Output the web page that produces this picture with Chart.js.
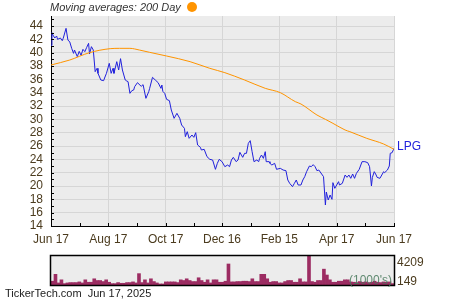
<!DOCTYPE html>
<html>
<head>
<meta charset="utf-8">
<script src="https://cdn.jsdelivr.net/npm/chart.js@4.4.0/dist/chart.umd.min.js"></script>
<style>
  body { margin: 0; background: #fff; font-family: "Liberation Sans", Arial, sans-serif; }
  #wrap { position: relative; width: 450px; height: 300px; overflow: hidden; }
  #title { position: absolute; left: 50px; top: 1px; font-style: italic; font-size: 11px; color: #333; white-space: nowrap; }
  #title .dot { display: inline-block; width: 10px; height: 10px; border-radius: 50%; background: #ff9400; margin-left: 6px; vertical-align: -1px; }
  #priceChart { position: absolute; left: 0; top: 0; }
  #volChart { position: absolute; left: 0; top: 250px; }
  #footer { position: absolute; left: 5px; top: 287px; font-size: 11px; color: #222; white-space: nowrap; }
</style>
</head>
<body>
<div id="wrap">
  <canvas id="priceChart" width="450" height="250"></canvas>
  <canvas id="volChart" width="450" height="40"></canvas>
  <div id="title">Moving averages: 200 Day<span class="dot"></span></div>
  <div id="footer">TickerTech.com&nbsp; Jun 17, 2025</div>
</div>
<script>
// --- data (day offsets from Jun 17 2024) ---
var ticker = 'LPG';

var priceDays = [
    0, 1, 2, 4, 6, 7, 10, 12, 13, 16,
    18, 20, 22, 24, 25, 28, 30, 32, 34, 36,
    38, 40, 41, 43, 45, 47, 49, 50, 53, 56,
    57, 59, 62, 64, 66, 67, 70, 72, 74, 76,
    79, 80, 82, 84, 86, 88, 89, 92, 96, 98,
    101, 104, 105, 108, 111, 114, 117, 118, 119, 121,
    123, 126, 128, 131, 134, 137, 139, 142, 143, 145,
    147, 150, 152, 154, 156, 159, 160, 163, 166, 169,
    172, 175, 177, 179, 182, 185, 188, 190, 192, 194,
    197, 199, 201, 204, 206, 208, 210, 212, 214, 216,
    219, 221, 222, 224, 226, 228, 229, 232, 233, 235,
    238, 240, 244, 247, 250, 252, 254, 257, 259, 261,
    263, 266, 268, 270, 272, 275, 277, 279, 281, 283,
    285, 288, 290, 292, 293, 295, 297, 299, 300, 302,
    304, 306, 307, 310, 313, 315, 317, 319, 321, 323,
    325, 328, 331, 334, 337, 339, 340, 341, 342, 344,
    346, 347, 350, 352, 354, 355, 358, 360, 361, 363,
    365
];
var prices = [
    41.1, 43.0, 42.65, 42.2, 42.5, 42.0, 42.2, 41.8, 42.15, 43.65,
    41.9, 41.6, 40.65, 39.9, 40.4, 39.4, 40.2, 39.6, 40.5, 40.15,
    40.8, 41.4, 39.8, 40.9, 40.4, 37.15, 37.65, 36.9, 35.9, 35.8,
    36.2, 36.9, 38.4, 36.9, 37.65, 36.9, 38.65, 37.4, 39.1, 37.4,
    35.9, 35.8, 35.65, 33.9, 34.3, 34.4, 34.9, 35.5, 34.95, 35.2,
    33.15, 34.15, 34.65, 36.3, 35.9, 35.5, 34.65, 35.15, 34.2, 33.9,
    33.0, 32.8, 31.4, 30.15, 30.9, 30.15, 29.15, 28.65, 27.4, 28.15,
    27.15, 27.65, 27.3, 28.0, 26.15, 25.8, 25.4, 25.5, 24.4, 24.0,
    23.9, 22.5, 23.4, 24.0, 23.65, 22.9, 23.15, 22.9, 23.9, 24.3,
    23.65, 23.9, 25.05, 24.3, 24.9, 24.9, 26.4, 26.8, 25.15, 23.65,
    23.9, 23.65, 24.15, 24.65, 24.15, 25.15, 23.65, 23.65, 23.4, 23.15,
    23.4, 22.5, 22.65, 22.4, 22.3, 20.9, 20.4, 19.9, 20.4, 20.9,
    20.15, 20.15, 20.9, 21.4, 22.15, 23.0, 22.9, 23.2, 22.9, 22.3,
    22.4, 21.8, 21.4, 17.15, 19.1, 17.9, 18.65, 18.0, 20.5, 19.65,
    20.15, 20.65, 20.15, 20.4, 21.65, 21.3, 21.65, 21.15, 21.8, 21.15,
    21.9, 22.5, 23.65, 23.65, 23.5, 22.9, 21.5, 20.0, 21.3, 22.15,
    21.65, 21.3, 21.15, 21.65, 22.15, 22.0, 22.4, 23.0, 24.9, 25.0,
    25.65
];

// 200 day moving average
var maDays = [0, 20, 41, 63, 73, 84, 94, 105, 123, 148, 169, 185, 206, 228, 244, 260, 266, 283, 292, 300, 313, 318, 336, 354, 365];
var maValues = [38.15, 38.9, 40.0, 40.6, 40.65, 40.65, 40.4, 40.05, 39.5, 38.65, 37.65, 37.0, 35.9, 34.65, 34.0, 32.65, 32.3, 30.65, 30.0, 29.4, 28.4, 28.15, 27.15, 26.3, 25.5];

var xTickDays = [0, 61, 122, 182, 243, 304, 365];
var xTickLabels = ['Jun 17', 'Aug 17', 'Oct 17', 'Dec 16', 'Feb 15', 'Apr 17', 'Jun 17'];
var yTickValues = [14, 16, 18, 20, 22, 24, 26, 28, 30, 32, 34, 36, 38, 40, 42, 44];

// volume (1000's), one bar per bin across the year
var volume = [
    550, 1550, 300, 750, 200, 300, 350, 350, 350, 450,
    300, 750, 400, 400, 900, 650, 650, 500, 750, 400,
    200, 200, 350, 250, 250, 350, 350, 450, 300, 1650,
    350, 750, 300, 900, 500, 300, 150, 150, 450, 450,
    450, 450, 350, 750, 650, 900, 650, 500, 500, 1050,
    650, 400, 750, 300, 750, 750, 400, 400, 550, 3050,
    450, 450, 500, 500, 550, 550, 500, 900, 500, 500,
    1550, 1550, 900, 400, 500, 500, 300, 300, 500, 650,
    650, 400, 400, 900, 450, 450, 4209, 500, 400, 650,
    650, 2300, 1450, 750, 400, 400, 550, 550, 750, 750,
    450, 400, 350, 500, 400, 450, 350, 400, 550, 400,
    350, 450, 400, 450, 200
];
var volLabels = [4209, 149];

var labelColor = '#4b3b1e';
var gridColor = '#d6d6d6';
var plotBg = '#ececec';
var priceColor = '#2121dc';
var maColor = '#ff9400';
var volColor = '#9c2c62';

Chart.defaults.font.family = '"Liberation Sans", Arial, sans-serif';

// grey plot background
var plotBackground = {
    id: 'plotBackground',
    beforeDraw: function(chart) {
        var a = chart.chartArea, ctx = chart.ctx;
        ctx.save();
        ctx.fillStyle = plotBg;
        ctx.fillRect(a.left, a.top, a.right - a.left, a.bottom - a.top);
        ctx.restore();
    }
};

// small inside tick marks + ticker label at the end of the line
var priceExtras = {
    id: 'priceExtras',
    afterDatasetsDraw: function(chart) {
        var ctx = chart.ctx, a = chart.chartArea;
        var x = chart.scales.x, y = chart.scales.y;
        ctx.save();
        ctx.strokeStyle = '#000';
        ctx.lineWidth = 1;
        ctx.beginPath();
        for (var v = Math.ceil(y.min); v <= y.max; v++) {
            var py = Math.round(y.getPixelForValue(v)) + 0.5;
            ctx.moveTo(a.left, py);
            ctx.lineTo(a.left + 3, py);
        }
        for (var i = 0; i < xTickDays.length; i++) {
            var px = Math.round(x.getPixelForValue(xTickDays[i])) + 0.5;
            ctx.moveTo(px, a.bottom);
            ctx.lineTo(px, a.bottom - 3);
            if (i < xTickDays.length - 1) {
                var pm = Math.round(x.getPixelForValue((xTickDays[i] + xTickDays[i + 1]) / 2)) + 0.5;
                ctx.moveTo(pm, a.bottom);
                ctx.lineTo(pm, a.bottom - 3);
            }
        }
        ctx.stroke();

        var pts = chart.getDatasetMeta(1).data;
        var last = pts[pts.length - 1];
        ctx.fillStyle = priceColor;
        ctx.font = '12px "Liberation Sans", Arial, sans-serif';
        ctx.textBaseline = 'middle';
        ctx.textAlign = 'left';
        ctx.fillText(ticker, last.x + 3, last.y - 2);
        ctx.restore();
    }
};

new Chart(document.getElementById('priceChart'), {
    type: 'line',
    data: {
        datasets: [{
            label: '200 Day',
            data: maDays.map(function(d, i) { return { x: d, y: maValues[i] }; }),
            borderColor: maColor,
            borderWidth: 1,
            pointRadius: 0,
            cubicInterpolationMode: 'monotone',
            fill: false
        }, {
            label: ticker,
            data: priceDays.map(function(d, i) { return { x: d, y: prices[i] }; }),
            borderColor: priceColor,
            borderWidth: 1,
            pointRadius: 0,
            tension: 0,
            fill: false
        }]
    },
    options: {
        responsive: false,
        animation: false,
        events: [],
        layout: { padding: { top: 16, right: 56, left: 0, bottom: 0 } },
        plugins: { legend: { display: false }, tooltip: { enabled: false } },
        scales: {
            x: {
                type: 'linear',
                min: 0,
                max: 365,
                afterBuildTicks: function(s) { s.ticks = xTickDays.map(function(v) { return { value: v }; }); },
                afterFit: function(s) { s.height = 24; },
                ticks: {
                    autoSkip: false,
                    maxRotation: 0,
                    padding: 6,
                    color: labelColor,
                    font: { size: 12 },
                    callback: function(v, i) { return xTickLabels[i]; }
                },
                grid: { color: gridColor, drawTicks: false },
                border: { color: '#000', width: 1 }
            },
            y: {
                min: 14,
                max: 45.5,
                afterBuildTicks: function(s) { s.ticks = yTickValues.map(function(v) { return { value: v }; }); },
                afterFit: function(s) { s.width = 51; },
                ticks: {
                    autoSkip: false,
                    padding: 8,
                    color: labelColor,
                    font: { size: 12 }
                },
                grid: { color: gridColor, drawTicks: false },
                border: { color: '#000', width: 1 }
            }
        }
    },
    plugins: [plotBackground, priceExtras]
});

// --- volume panel ---
var volExtras = {
    id: 'volExtras',
    afterDraw: function(chart) {
        var ctx = chart.ctx, a = chart.chartArea, y = chart.scales.y;
        ctx.save();
        ctx.strokeStyle = '#000';
        ctx.lineWidth = 1.5;
        ctx.strokeRect(a.left - 0.5, a.top - 0.5, a.right - a.left + 1, a.bottom - a.top + 1);

        ctx.font = '12px "Liberation Sans", Arial, sans-serif';
        ctx.textBaseline = 'middle';
        ctx.textAlign = 'right';
        ctx.fillStyle = 'rgba(70,120,90,0.85)';
        ctx.fillText("(1000's)", a.right - 2, a.bottom - 4);

        ctx.textAlign = 'left';
        ctx.fillStyle = labelColor;
        ctx.fillText(String(volLabels[0]), a.right + 3, y.getPixelForValue(volLabels[0]) + 7);
        ctx.fillText(String(volLabels[1]), a.right + 3, y.getPixelForValue(volLabels[1]) - 2);
        ctx.restore();
    }
};

new Chart(document.getElementById('volChart'), {
    type: 'bar',
    data: {
        labels: volume.map(function(v, i) { return i; }),
        datasets: [{
            data: volume,
            backgroundColor: volColor,
            borderWidth: 0,
            categoryPercentage: 1,
            barPercentage: 1
        }]
    },
    options: {
        responsive: false,
        animation: false,
        events: [],
        layout: { padding: { top: 6, right: 56, left: 51, bottom: 5 } },
        plugins: { legend: { display: false }, tooltip: { enabled: false } },
        scales: {
            x: { display: false },
            y: { display: false, min: 0, max: 4209 }
        }
    },
    plugins: [plotBackground, volExtras]
});
</script>
</body>
</html>
